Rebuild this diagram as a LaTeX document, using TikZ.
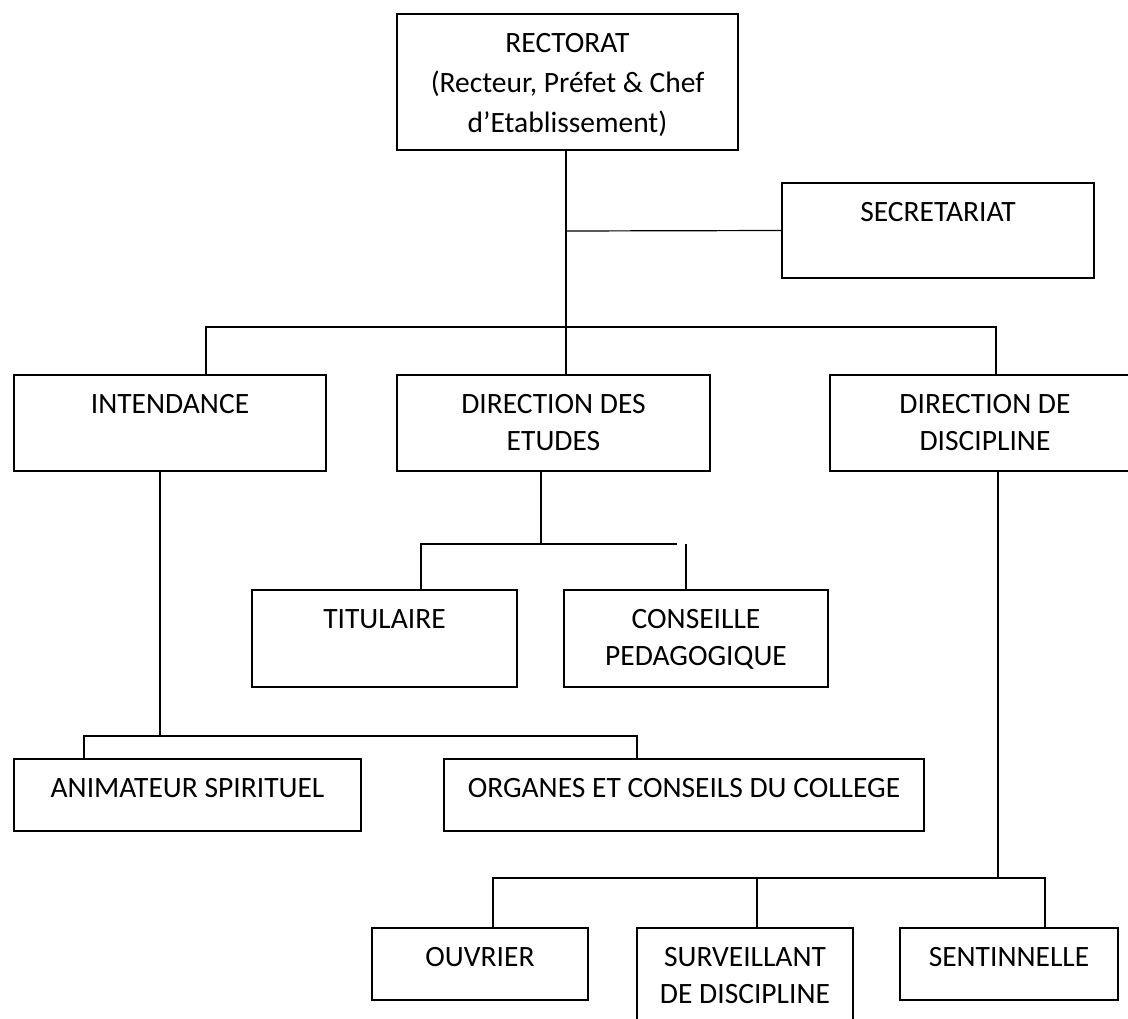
\documentclass[tikz,border=0pt]{standalone}
\usepackage{fontspec}
\setmainfont{Carlito}
% box content: text set from the top of a fixed-size box
% #1 baselineskip, #2 width, #3 height, #4 text
\newcommand\boxlabel[4][36.5]{%
  \parbox[c][#3pt][t]{#2pt}{\centering\fontsize{29.5}{#1}\selectfont
    \vspace*{19.5pt}#4\par}}
\begin{document}
\begin{tikzpicture}[x=1pt,y=-1pt,
  box/.style={draw, line width=1.5pt, inner sep=0pt, outer sep=0pt, anchor=north west},
  conn/.style={line width=1.2pt}]
\useasboundingbox (0,0) rectangle (1128,1019);
\clip (0,0) rectangle (1128,1019);

% top level
\node[box] (rect) at (397,14)
  {\boxlabel[40]{341}{136}{RECTORAT\\(Recteur, Préfet \& Chef\\d’Etablissement)}};
\node[box] (sec) at (782,183) {\boxlabel{312}{95}{SECRETARIAT}};

% directions
\node[box] (int) at (14,375)  {\boxlabel{312}{96}{INTENDANCE}};
\node[box] (dde) at (397,375) {\boxlabel{313}{96}{DIRECTION DES\\ETUDES}};
\node[box] (ddd) at (830,375) {\boxlabel{310}{96}{DIRECTION DE\\DISCIPLINE}};

% under the direction des etudes
\node[box] (tit)  at (252,590) {\boxlabel{265}{97}{TITULAIRE}};
\node[box] (cons) at (564,590) {\boxlabel{264}{97}{CONSEILLE\\PEDAGOGIQUE}};

% under the intendance
\node[box] (anim) at (14,759)  {\boxlabel{347}{72}{ANIMATEUR SPIRITUEL}};
\node[box] (org)  at (444,759) {\boxlabel{480}{72}{ORGANES ET CONSEILS DU COLLEGE}};

% under the direction de discipline
\node[box] (ouv)  at (372,928) {\boxlabel{216}{72}{OUVRIER}};
\node[box] (surv) at (637,928) {\boxlabel{216}{112}{SURVEILLANT\\DE DISCIPLINE}};
\node[box] (sent) at (900,928) {\boxlabel{218}{72}{SENTINNELLE}};

% junction points
\coordinate (j0)  at (566,231);
\coordinate (j1)  at (566,327);
\coordinate (b1l) at (206,327);
\coordinate (b1r) at (996,327);
\coordinate (b2)  at (541,544);
\coordinate (b2l) at (421,544);
\coordinate (b2r) at (677,544);
\coordinate (b2t) at (686,544);
\coordinate (b3)  at (160,736);
\coordinate (b3l) at (84,736);
\coordinate (b3r) at (637,736);
\coordinate (b4)  at (998,878);
\coordinate (b4l) at (493,878);
\coordinate (b4m) at (757,878);
\coordinate (b4r) at (1045,878);

% rectorat trunk and secretariat
\draw[conn] (rect.south -| j1) -- (dde.north -| j1);
\draw[conn] (j0) -- (sec.west);
\draw[conn] (int.north -| b1l) -- (b1l) -- (b1r) -- (ddd.north -| b1r);

% direction des etudes branch
\draw[conn] (dde.south -| b2) -- (b2);
\draw[conn] (tit.north -| b2l) -- (b2l) -- (b2r);
\draw[conn] (b2t) -- (cons.north -| b2t);

% intendance branch
\draw[conn] (int.south -| b3) -- (b3);
\draw[conn] (anim.north -| b3l) -- (b3l) -- (b3r) -- (org.north -| b3r);

% direction de discipline branch
\draw[conn] (ddd.south -| b4) -- (b4);
\draw[conn] (ouv.north -| b4l) -- (b4l) -- (b4r) -- (sent.north -| b4r);
\draw[conn] (b4m) -- (surv.north -| b4m);
\end{tikzpicture}
\end{document}
